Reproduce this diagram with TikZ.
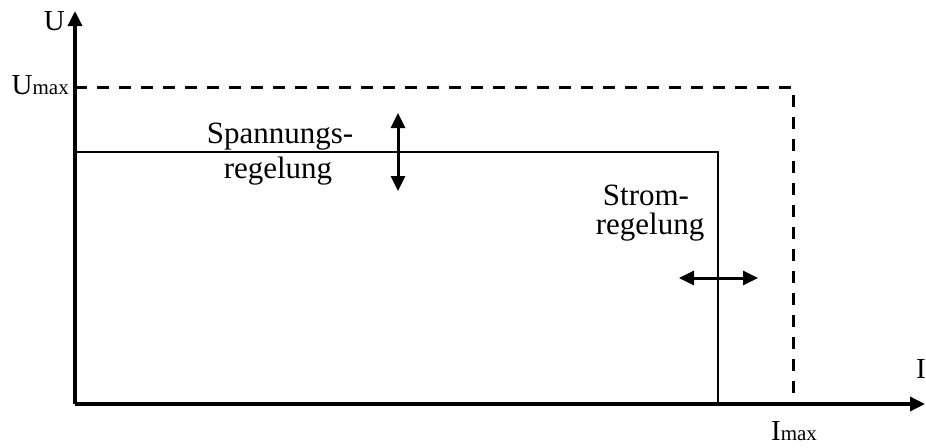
\documentclass[tikz,border=0pt]{standalone}
\usepackage{fontspec}
\setmainfont{Liberation Serif}
\usetikzlibrary{arrows.meta}
\tikzset{
  tip/.style={-{Triangle[length=15pt,width=14pt]}},
  axis/.style={line width=3.4pt,tip},
  curve/.style={line width=2.8pt},
  limit/.style={line width=3pt,dash pattern=on 12pt off 10pt},
  dblarrow/.style={line width=3pt,{Triangle[length=15pt,width=14pt]}-{Triangle[length=15pt,width=14pt]}},
  lbl/.style={inner sep=0pt,font=\fontsize{31}{36}\selectfont},
  axlbl/.style={inner sep=0pt,font=\fontsize{29}{32}\selectfont},
}
\newcommand{\smallmax}{{\fontsize{21}{23}\selectfont max}}
\begin{document}
\begin{tikzpicture}[x=1pt,y=-1pt]
\useasboundingbox (0,0) rectangle (926,447);
% coordinates
\coordinate (O) at (75,404);
\coordinate (Ytop) at (75,11);
\coordinate (Xend) at (925,404);
\coordinate (Umaxpt) at (75,87);
\coordinate (Corner) at (793,87);
\coordinate (Imaxpt) at (793,404);
\coordinate (Utop) at (75,152);
\coordinate (Rc) at (718,152);
\coordinate (Rb) at (718,404);
\coordinate (Va) at (398,113);
\coordinate (Vb) at (398,191);
\coordinate (Ha) at (679,278);
\coordinate (Hb) at (758,278);
% limits
\draw[limit] (Umaxpt) -- (Corner) -- (Imaxpt);
% characteristic
\draw[curve] (Utop) -- (Rc) -- (Rb);
% axes
\draw[axis] (O) -- (Ytop);
\draw[axis] (O) -- (Xend);
% double arrows
\draw[dblarrow] (Va) -- (Vb);
\draw[dblarrow] (Ha) -- (Hb);
% labels
\node[axlbl,anchor=base east] (lU) at (65,30) {U};
\node[axlbl,anchor=base east] (lUmax) at (69,94) {U\smallmax};
\node[axlbl,anchor=base] (lI) at (921,378) {I};
\node[axlbl,anchor=base] (lImax) at (794,440) {I\smallmax};
\node[lbl,anchor=base] (sp1) at (280,143) {Spannungs-};
\node[lbl,anchor=base] (sp2) at (278,178) {regelung};
\node[lbl,anchor=base] (st1) at (646,205) {Strom-};
\node[lbl,anchor=base] (st2) at (650,234) {regelung};
\end{tikzpicture}
\end{document}
